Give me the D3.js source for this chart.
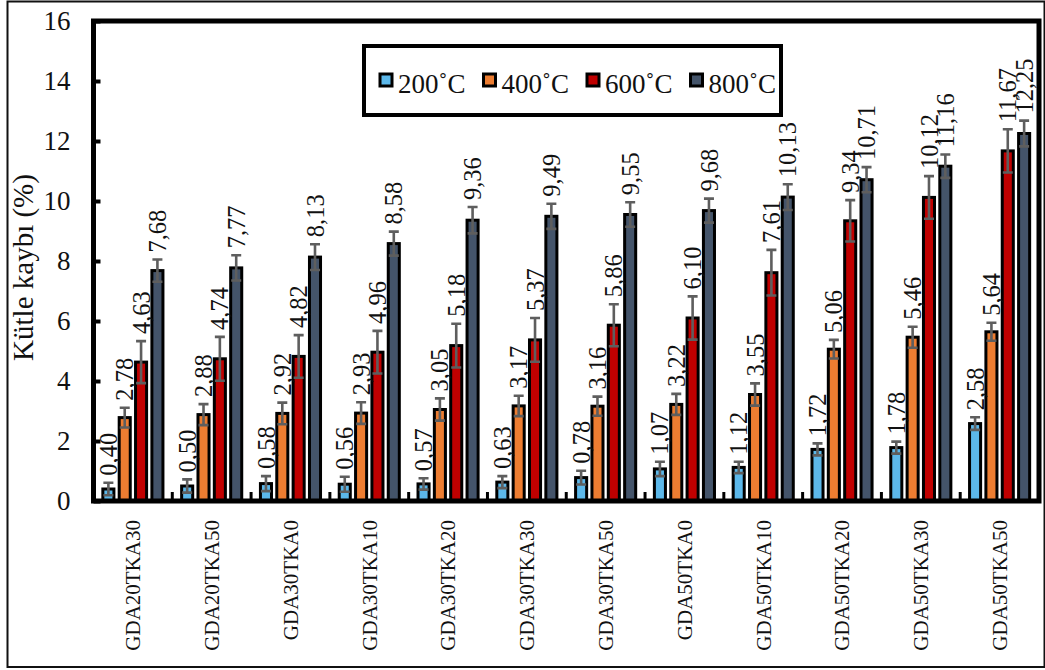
<!DOCTYPE html>
<html>
<head>
<meta charset="utf-8">
<script src="https://cdn.jsdelivr.net/npm/d3@7"></script>
<style>
  html, body { margin: 0; padding: 0; background: #fff; }
  svg { display: block; font-family: "Liberation Serif", "Times New Roman", serif; }
</style>
</head>
<body>
<svg id="chart" width="1045" height="670"></svg>
<script>
// Samples and firing temperatures
const categories = ["GDA20TKA30", "GDA20TKA50", "GDA30TKA0", "GDA30TKA10", "GDA30TKA20", "GDA30TKA30",
                    "GDA30TKA50", "GDA50TKA0", "GDA50TKA10", "GDA50TKA20", "GDA50TKA30", "GDA50TKA50"];
const series = ["200˚C", "400˚C", "600˚C", "800˚C"];

// Mass loss (%) per temperature
const v200 = [0.40, 0.50, 0.58, 0.56, 0.57, 0.63, 0.78, 1.07, 1.12, 1.72, 1.78, 2.58];
const v400 = [2.78, 2.88, 2.92, 2.93, 3.05, 3.17, 3.16, 3.22, 3.55, 5.06, 5.46, 5.64];
const v600 = [4.63, 4.74, 4.82, 4.96, 5.18, 5.37, 5.86, 6.10, 7.61, 9.34, 10.12, 11.67];
const v800 = [7.68, 7.77, 8.13, 8.58, 9.36, 9.49, 9.55, 9.68, 10.13, 10.71, 11.16, 12.25];

// Standard deviations (error bars)
const e200 = [0.21, 0.22, 0.25, 0.25, 0.19, 0.20, 0.23, 0.24, 0.19, 0.20, 0.20, 0.21];
const e400 = [0.33, 0.35, 0.36, 0.36, 0.37, 0.34, 0.32, 0.35, 0.37, 0.31, 0.35, 0.30];
const e600 = [0.70, 0.73, 0.71, 0.71, 0.73, 0.73, 0.70, 0.72, 0.76, 0.69, 0.71, 0.72];
const e800 = [0.37, 0.42, 0.43, 0.40, 0.44, 0.42, 0.41, 0.40, 0.43, 0.42, 0.39, 0.43];

const yTicks = [0, 2, 4, 6, 8, 10, 12, 14, 16];
const yTitle = "Kütle kaybı (%)";

const colors = ["#5cb8ea", "#ed7d31", "#c00000", "#44546a"];
const values = [v200, v400, v600, v800];
const errors = [e200, e400, e600, e800];

const rows = [];
categories.forEach((c, i) => {
  series.forEach((s, k) => {
    rows.push({ cat: c, ser: s, k, v: values[k][i], e: errors[k][i] });
  });
});

const svg = d3.select("#chart");
const serif = "Liberation Serif, Times New Roman, serif";
const L = 93.5, R = 1039, T = 21, B = 501;

const x0 = d3.scaleBand().domain(categories).range([L, R]).paddingInner(0).paddingOuter(0);
const x1 = d3.scaleBand().domain(series).range([0, x0.bandwidth()]).paddingInner(0.14).paddingOuter(0.48);
const y = d3.scaleLinear().domain([0, 16]).range([B, T]);
const color = d3.scaleOrdinal().domain(series).range(colors);
const fmt = v => d3.format(".2f")(v).replace(".", ",");

// outer picture border
svg.append("rect")
  .attr("x", 7.5).attr("y", 1.5).attr("width", 1037).attr("height", 665.5)
  .attr("fill", "none").attr("stroke", "#111").attr("stroke-width", 2);

// bars
const bw = x1.bandwidth();
svg.append("g").selectAll("rect").data(rows).join("rect")
  .attr("x", d => x0(d.cat) + x1(d.ser) + 1.5)
  .attr("y", d => y(d.v))
  .attr("width", bw - 3)
  .attr("height", d => y(0) - y(d.v))
  .attr("fill", d => color(d.ser))
  .attr("stroke", "#000").attr("stroke-width", 3);

// error bars
const eg = svg.append("g").attr("stroke", "#5e5e5e").attr("stroke-width", 2.6).attr("fill", "none");
const cx = d => x0(d.cat) + x1(d.ser) + bw / 2;
const capW = 5;
eg.selectAll("path").data(rows).join("path")
  .attr("d", d => {
    const x = cx(d), yt = y(d.v + d.e), yb = y(d.v - d.e);
    return `M${x},${yt}V${yb}M${x - capW},${yt}H${x + capW}M${x - capW},${yb}H${x + capW}`;
  });

// value labels
svg.append("g").selectAll("text").data(rows).join("text")
  .attr("transform", d => `translate(${cx(d)},${y(d.v + d.e) - 7}) rotate(-90)`)
  .attr("dy", "0.35em")
  .attr("text-anchor", "start")
  .attr("font-size", 24.5)
  .attr("fill", "#111")
  .text(d => fmt(d.v));

// y axis with inward ticks
const yAxis = d3.axisLeft(y).tickValues(yTicks).tickSize(-7).tickPadding(23).tickFormat(d3.format("d"));
const ya = svg.append("g").attr("transform", `translate(${L},0)`).call(yAxis);
ya.select(".domain").remove();
ya.selectAll(".tick line").attr("stroke", "#000").attr("stroke-width", 4);
ya.selectAll(".tick text").attr("font-size", 27).attr("fill", "#111").attr("font-family", serif);

// x axis: rotated sample names
const xAxis = d3.axisBottom(x0).tickSize(0).tickPadding(0);
const xa = svg.append("g").attr("transform", `translate(0,${B})`).call(xAxis);
xa.select(".domain").remove();
xa.selectAll(".tick text")
  .attr("font-size", 21).attr("fill", "#111").attr("font-family", serif)
  .attr("text-anchor", "end")
  .attr("y", 0)
  .attr("transform", "translate(0,19) rotate(-90)")
  .attr("dy", "0.35em");

// group separator ticks on the category axis
svg.append("g").selectAll("line").data(categories.slice(1)).join("line")
  .attr("x1", d => x0(d)).attr("x2", d => x0(d))
  .attr("y1", B).attr("y2", B - 9)
  .attr("stroke", "#000").attr("stroke-width", 3);

// plot frame
svg.append("rect")
  .attr("x", L).attr("y", T).attr("width", R - L).attr("height", B - T)
  .attr("fill", "none").attr("stroke", "#000").attr("stroke-width", 5);

// y axis title
svg.append("text")
  .attr("transform", `translate(23,${(173 + 362) / 2}) rotate(-90)`)
  .attr("text-anchor", "middle").attr("dy", "0.35em")
  .attr("font-size", 29).attr("fill", "#111")
  .text(yTitle);

// legend
const lg = svg.append("g");
lg.append("rect")
  .attr("x", 364).attr("y", 46).attr("width", 417).attr("height", 69)
  .attr("fill", "#fff").attr("stroke", "#000").attr("stroke-width", 4);
const items = lg.selectAll("g.item").data(series).join("g")
  .attr("class", "item")
  .attr("transform", (d, i) => `translate(${380 + i * 103.5},74)`);
items.append("rect")
  .attr("x", 0).attr("y", 0).attr("width", 12).attr("height", 12)
  .attr("fill", d => color(d)).attr("stroke", "#000").attr("stroke-width", 3);
items.append("text")
  .attr("x", 18).attr("y", 19)
  .attr("font-size", 27).attr("fill", "#111")
  .text(d => d);
</script>
</body>
</html>
